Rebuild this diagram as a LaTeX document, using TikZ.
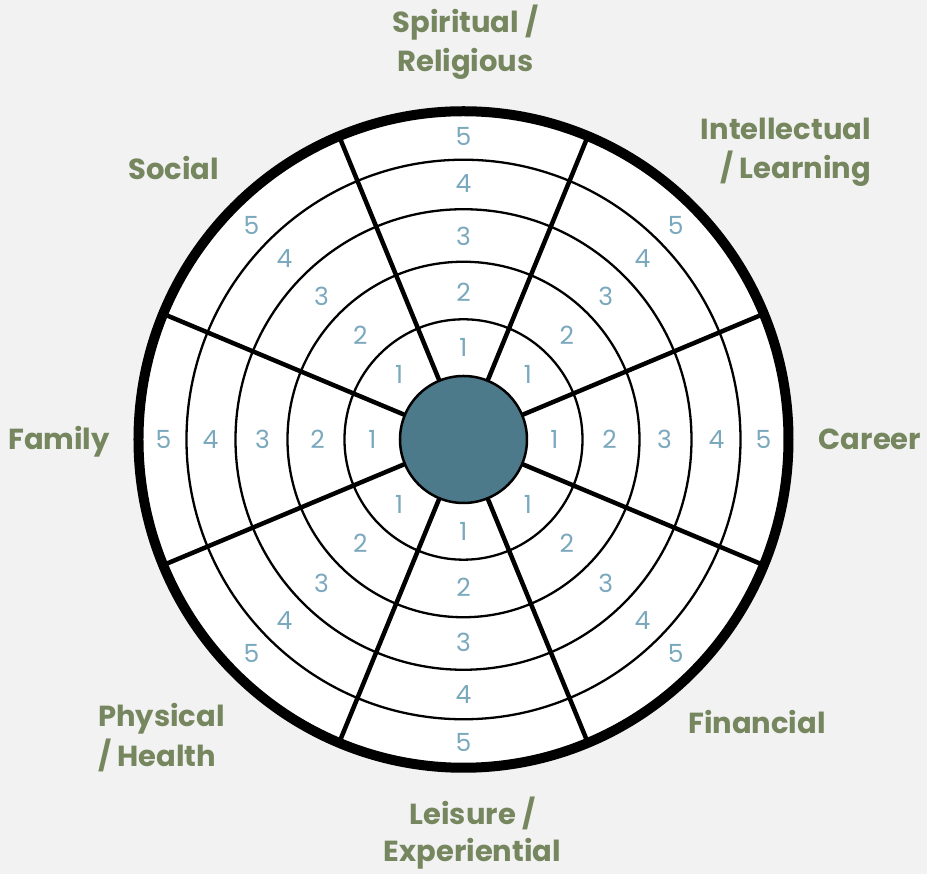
\documentclass[tikz,border=0pt]{standalone}
\usepackage{fontspec}
\setmainfont{Poppins}
\definecolor{pagebg}{HTML}{F2F2F2}
\definecolor{labelgreen}{HTML}{76875F}
\definecolor{scoreblue}{HTML}{7AA8BD}
\definecolor{hubteal}{HTML}{4C7A8A}
\begin{document}
\begin{tikzpicture}[x=1pt, y=1pt,
  area/.style={font=\bfseries\fontsize{29}{29}\selectfont, text=labelgreen, inner sep=0pt},
  score/.style={font=\fontsize{25}{25}\selectfont, text=scoreblue, inner sep=0pt},
  ringline/.style={line width=2.3pt},
  spokeline/.style={line width=4.5pt},
  rimline/.style={line width=10pt}]
  % page
  \fill[pagebg] (-463.5,-434.5) rectangle (463.5,439.5);
  \useasboundingbox (-463.5,-434.5) rectangle (463.5,439.5);
  % wheel
  \begin{scope}[yscale=1.01]
    \fill[white] (0,0) circle [radius=325];
    \foreach \r in {119,176,228,277}
      \draw[ringline] (0,0) circle [radius=\r];
    \foreach \a in {22.5,67.5,...,337.5}
      \draw[spokeline] (\a:60) -- (\a:325);
    \node[circle, minimum size=127pt, inner sep=0pt, fill=hubteal, draw=black, line width=2.5pt] (hub) at (0,0) {};
    \draw[rimline] (0,0) circle [radius=325];
    % scores 1-5 in every sector
    \foreach \a in {0,45,...,315}
      \foreach \r [count=\i] in {91,146,201,253,300}
        \node[score] (s-\a-\i) at (\a:\r) {\i};
  \end{scope}
  % area labels
  \node[area, anchor=base] (spiritual1) at (2,406.5) {Spiritual /};
  \node[area, anchor=base] (spiritual2) at (2,367.5) {Religious};
  \node[area, anchor=base east] (intellectual1) at (407.5,299.5) {Intellectual};
  \node[area, anchor=base east] (intellectual2) at (407.5,260.8) {/ Learning};
  \node[area, anchor=base] (career) at (406.5,-10.5) {Career};
  \node[area, anchor=base] (financial) at (293.5,-294.5) {Financial};
  \node[area, anchor=base] (leisure1) at (9,-385) {Leisure /};
  \node[area, anchor=base] (leisure2) at (9,-422.5) {Experiential};
  \node[area, anchor=base west] (physical1) at (-365.5,-287.5) {Physical};
  \node[area, anchor=base west] (physical2) at (-365.5,-327.2) {/ Health};
  \node[area, anchor=base] (family) at (-404.5,-10.5) {Family};
  \node[area, anchor=base] (social) at (-290,259.5) {Social};
\end{tikzpicture}
\end{document}
